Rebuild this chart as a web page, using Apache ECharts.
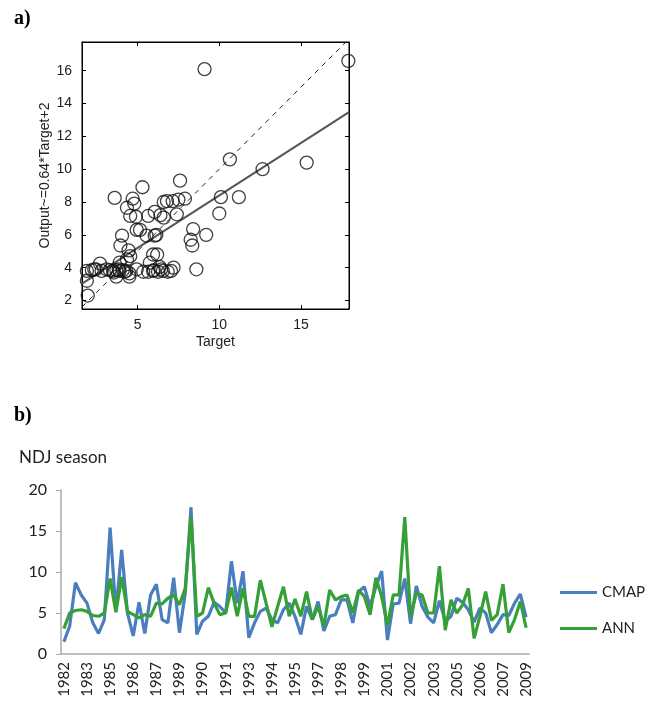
<!DOCTYPE html>
<html>
<head>
<meta charset="utf-8">
<script src="https://cdn.jsdelivr.net/npm/echarts@6/dist/echarts.min.js"></script>
<style>
  html, body { margin: 0; padding: 0; background: #fff; }
  #chart { width: 651px; height: 702px; }
</style>
</head>
<body>
<div id="chart"></div>
<script>
// panel a) scatter: target vs output pairs
const targetVals = [17.9, 9.1, 15.35, 10.65, 12.65, 11.2, 10.1, 10.0, 9.2, 8.4, 8.25, 8.35, 8.6,
  7.6, 7.9, 7.5, 7.15, 6.8, 6.6, 7.4, 6.05, 6.4, 6.6, 5.65, 5.3, 3.6, 4.7, 4.8, 4.35, 4.55, 4.9,
  4.95, 5.15, 5.55, 6.05, 6.15, 4.05, 3.95, 4.45, 4.35, 3.9, 5.95, 6.2, 5.75, 6.35, 4.55,
  1.55, 1.9, 1.9, 2.2, 2.45, 2.7, 2.8, 3.1, 3.5, 3.7, 3.9, 4.1, 4.3, 4.5, 4.5, 3.7, 4.95, 5.35,
  5.65, 5.95, 6.25, 6.55, 6.85, 7.05, 7.2, 6.0, 6.45, 1.95, 2.35, 3.3, 3.55, 3.85, 4.2];
const outputVals = [16.6, 16.1, 10.4, 10.6, 10.0, 8.3, 8.3, 7.3, 6.0, 6.35, 5.7, 5.35, 3.9,
  9.3, 8.2, 8.15, 8.05, 8.05, 8.0, 7.25, 7.4, 7.2, 7.05, 7.15, 8.9, 8.25, 8.2, 7.9, 7.65, 7.15, 7.1,
  6.3, 6.3, 5.95, 5.95, 6.0, 5.95, 5.35, 5.05, 4.5, 4.3, 4.8, 4.8, 4.3, 4.05, 4.7,
  3.2, 3.2, 3.8, 3.85, 3.9, 4.25, 3.8, 3.9, 3.8, 3.85, 3.8, 3.85, 3.8, 3.45, 3.65, 3.45, 3.9, 3.75,
  3.75, 3.8, 3.75, 3.8, 3.75, 3.8, 4.0, 3.85, 3.9, 2.3, 3.9, 3.85, 3.7, 3.9, 3.75];
const fitSlope = 0.64;
const fitIntercept = 2;
const targetRange = [1.6, 17.94];
const outputRange = [1.48, 17.75];
const targetTicks = [5, 10, 15];
const outputTicks = [2, 4, 6, 8, 10, 12, 14, 16];

// panel b) NDJ season: three months per season, Nov/Dec of year y and Jan of y+1
const seasonYears = [];
for (let y = 1982; y <= 2008; y++) {
  seasonYears.push(String(y), String(y), String(y + 1));
}
const cmap = [1.5, 3.4, 8.7, 7.2, 6.2, 3.8, 2.5, 4.2, 15.4, 5.2, 12.7, 5.0, 2.2, 6.3, 2.5, 7.2,
  8.5, 4.2, 3.8, 9.3, 2.6, 7.4, 17.9, 2.4, 4.0, 4.6, 6.3, 5.8, 5.0, 11.3, 6.2, 10.1, 2.0, 3.8,
  5.2, 5.6, 4.2, 3.8, 5.4, 6.2, 4.6, 2.4, 5.8, 4.2, 6.4, 2.8, 4.6, 4.8, 6.6, 6.6, 3.8, 7.6, 8.2,
  5.8, 8.2, 10.1, 1.7, 6.1, 6.2, 9.2, 3.7, 8.3, 5.8, 4.5, 3.8, 6.5, 4.0, 4.6, 6.8, 6.3, 5.4,
  3.9, 5.6, 5.0, 2.6, 3.6, 4.8, 4.7, 6.2, 7.3, 4.5];
const ann = [3.1, 5.0, 5.3, 5.4, 5.2, 4.7, 4.6, 5.0, 9.2, 5.1, 9.4, 5.2, 4.8, 4.4, 4.8, 4.6,
  6.2, 6.1, 6.8, 7.2, 6.0, 8.0, 16.7, 4.6, 5.0, 8.1, 6.2, 4.8, 5.0, 8.1, 4.6, 8.0, 4.6, 4.6,
  9.0, 6.2, 3.3, 5.8, 8.2, 4.6, 6.7, 4.6, 7.6, 4.2, 5.8, 3.4, 7.8, 6.6, 7.0, 7.2, 5.0, 7.8, 7.0,
  4.8, 9.3, 7.0, 3.5, 7.2, 7.2, 16.7, 4.6, 7.4, 7.2, 5.0, 5.0, 10.7, 2.9, 6.6, 5.0, 6.0, 8.0,
  1.9, 4.6, 7.6, 4.1, 4.8, 8.5, 2.6, 4.2, 6.4, 3.2];

const chart = echarts.init(document.getElementById('chart'));

const pairs = targetVals.map((t, i) => [t, outputVals[i]]);
const fitLine = targetRange.map(t => [t, fitSlope * t + fitIntercept]);
const idLine = targetRange.map(t => [t, t]);

const matFont = 'Liberation Sans';
const xlFont = 'Lato';

const option = {
  animation: false,
  backgroundColor: '#fff',
  title: [
    { text: 'a)', left: 9, top: 4, textStyle: { fontFamily: 'Liberation Serif', fontWeight: 'bold', fontSize: 20, color: '#000' } },
    { text: 'b)', left: 9, top: 401, textStyle: { fontFamily: 'Liberation Serif', fontWeight: 'bold', fontSize: 20, color: '#000' } },
    { text: 'NDJ season', left: 14, top: 444, textStyle: { fontFamily: xlFont, fontWeight: 'normal', fontSize: 17, color: '#222' } }
  ],
  legend: {
    data: ['CMAP', 'ANN'],
    orient: 'vertical',
    left: 555,
    top: 580,
    icon: 'rect',
    itemWidth: 37,
    itemHeight: 3,
    itemGap: 21,
    textStyle: { fontFamily: xlFont, fontSize: 15, color: '#222' }
  },
  grid: [
    { left: 82, top: 42, width: 267, height: 267, show: true, borderColor: '#000', borderWidth: 1, containLabel: false },
    { left: 61, top: 490, width: 468, height: 164, containLabel: false }
  ],
  xAxis: [
    {
      type: 'value', gridIndex: 0, min: targetRange[0], max: targetRange[1],
      name: 'Target', nameLocation: 'middle', nameGap: 26,
      nameTextStyle: { fontFamily: matFont, fontSize: 14, color: '#222' },
      splitLine: { show: false },
      axisLine: { lineStyle: { color: '#000' } },
      axisTick: { inside: true, length: 4, customValues: targetTicks, lineStyle: { color: '#000' } },
      axisLabel: { customValues: targetTicks, fontFamily: matFont, fontSize: 14, color: '#222', margin: 9 }
    },
    {
      type: 'value', gridIndex: 0, position: 'top', min: targetRange[0], max: targetRange[1],
      splitLine: { show: false },
      axisLine: { lineStyle: { color: '#000' } },
      axisTick: { inside: true, length: 4, customValues: targetTicks, lineStyle: { color: '#000' } },
      axisLabel: { show: false }
    },
    {
      type: 'category', gridIndex: 1, data: seasonYears,
      axisLine: { lineStyle: { color: '#aaa', width: 1.5 } },
      axisTick: { interval: 0, length: 5, lineStyle: { color: '#aaa' } },
      axisLabel: { interval: 3, rotate: 90, fontFamily: xlFont, fontSize: 15, color: '#222', margin: 8 }
    }
  ],
  yAxis: [
    {
      type: 'value', gridIndex: 0, min: outputRange[0], max: outputRange[1],
      name: 'Output~=0.64*Target+2', nameLocation: 'middle', nameGap: 30,
      nameTextStyle: { fontFamily: matFont, fontSize: 14, color: '#222' },
      splitLine: { show: false },
      axisLine: { lineStyle: { color: '#000' } },
      axisTick: { inside: true, length: 4, customValues: outputTicks, lineStyle: { color: '#000' } },
      axisLabel: { customValues: outputTicks, fontFamily: matFont, fontSize: 14, color: '#222', margin: 10 }
    },
    {
      type: 'value', gridIndex: 0, position: 'right', min: outputRange[0], max: outputRange[1],
      splitLine: { show: false },
      axisLine: { lineStyle: { color: '#000' } },
      axisTick: { inside: true, length: 4, customValues: outputTicks, lineStyle: { color: '#000' } },
      axisLabel: { show: false }
    },
    {
      type: 'value', gridIndex: 1, min: 0, max: 20, interval: 5,
      splitLine: { show: false },
      axisLine: { show: true, lineStyle: { color: '#aaa', width: 1.5 } },
      axisTick: { show: true, length: 5, lineStyle: { color: '#aaa' } },
      axisLabel: { fontFamily: xlFont, fontSize: 16, color: '#222', margin: 14 }
    }
  ],
  series: [
    {
      type: 'scatter', xAxisIndex: 0, yAxisIndex: 0, data: pairs,
      symbol: 'circle', symbolSize: 13,
      itemStyle: { color: 'rgba(0,0,0,0)', borderColor: '#111', borderWidth: 1.3 },
      z: 3
    },
    {
      type: 'line', xAxisIndex: 0, yAxisIndex: 0, data: fitLine,
      symbol: 'none', lineStyle: { color: '#555', width: 2 }, z: 2
    },
    {
      type: 'line', xAxisIndex: 0, yAxisIndex: 0, data: idLine,
      symbol: 'none', lineStyle: { color: '#222', width: 1, type: [5, 5] }, z: 2
    },
    {
      name: 'CMAP', type: 'line', xAxisIndex: 2, yAxisIndex: 2, data: cmap,
      symbol: 'none', color: '#4a7ebf', lineStyle: { color: '#4a7ebf', width: 3.2 }
    },
    {
      name: 'ANN', type: 'line', xAxisIndex: 2, yAxisIndex: 2, data: ann,
      symbol: 'none', color: '#35a035', lineStyle: { color: '#35a035', width: 3.2 }
    }
  ]
};

chart.setOption(option);
window.addEventListener('resize', chart.resize);
</script>
</body>
</html>
